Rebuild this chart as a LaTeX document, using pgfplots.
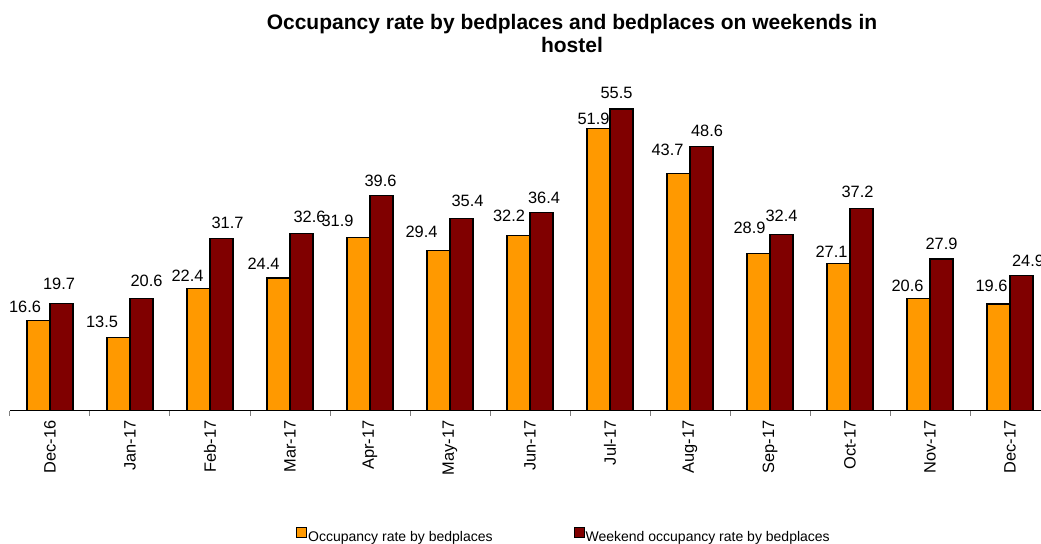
\documentclass[border=0pt]{standalone}
\usepackage{pgfplots}
\pgfplotsset{compat=1.18}
\usepackage{pgfplotstable}
\usepackage{fontspec}
\setmainfont{Liberation Sans}
\definecolor{barorange}{RGB}{255,153,0}
\definecolor{barred}{RGB}{128,0,0}
\pgfplotstableread{
x y dx dy lab
0 16.6 -13.5 7 16.6
1 13.5 -16.5 9 13.5
2 22.4 -11 7 22.4
3 24.4 -15 8 24.4
4 31.9 -21 10 31.9
5 29.4 -17 13 29.4
6 32.2 -9.5 13 32.2
7 51.9 -5 3 51.9
8 43.7 -11 17 43.7
9 28.9 -9 19 28.9
10 27.1 -7 5 27.1
11 20.6 -11 6 20.6
12 19.6 -7 12 19.6
}\occ
\pgfplotstableread{
x y dx dy lab
0 19.7 -2.5 13 19.7
1 20.6 5 11 20.6
2 31.7 6 9 31.7
3 32.6 8 10 32.6
4 39.6 -1 8 39.6
5 35.4 6 11 35.4
6 36.4 2.5 9 36.4
7 55.5 -5 10 55.5
8 48.6 5.5 9 48.6
9 32.4 0 12 32.4
10 37.2 -4 10 37.2
11 27.9 0 9 27.9
12 24.9 6.5 8 24.9
}\wkd

\begin{document}
\begin{tikzpicture}
\useasboundingbox (0,0) rectangle (520.5pt,271.5pt);
\clip (0,0) rectangle (520.5pt,271.5pt);
\node[anchor=base, inner sep=0pt, font=\fontsize{10.5}{12}\selectfont\bfseries] at (286pt,257pt) {Occupancy rate by bedplaces and bedplaces on weekends in};
\node[anchor=base, inner sep=0pt, font=\fontsize{10.5}{12}\selectfont\bfseries] at (286pt,245.5pt) {hostel};
\begin{axis}[
  at={(5pt,66.25pt)}, anchor=south west,
  x=40pt, y=2.716pt,
  xmin=-0.5, xmax=12.5, ymin=0, ymax=60,
  axis x line*=bottom, hide y axis,
  x axis line style={black, line width=0.5pt, -},
  xtick={0,...,12},
  xticklabels={Dec-16,Jan-17,Feb-17,Mar-17,Apr-17,May-17,Jun-17,Jul-17,Aug-17,Sep-17,Oct-17,Nov-17,Dec-17},
  major tick length=0pt,
  major x tick style={draw=none},
  minor xtick={-0.5,0.5,...,12.5},
  minor x tick style={gray, line width=0.5pt},
  minor tick length=2.5pt, tick align=outside,
  xticklabel style={rotate=90, anchor=east, inner sep=0pt, font=\fontsize{8.2}{9}\selectfont},
  xticklabel shift=4.75pt,
  ybar=0pt, bar width=11.5pt,
  clip=false,
  nodes near coords, point meta=explicit symbolic,
  visualization depends on={\thisrow{dx} \as \dx},
  visualization depends on={\thisrow{dy} \as \dy},
  every node near coord/.append style={anchor=south, inner sep=0pt, font=\fontsize{8.2}{9}\selectfont, xshift=\dx*0.5pt, yshift=\dy*0.5pt, text=black},
  legend columns=2,
  legend image code/.code={\draw[#1, line width=0.5pt] (0pt,0pt) rectangle (5pt,5pt);},
  legend style={at={(0.5322,-0.3852)}, anchor=center, draw=none, fill=none, inner sep=0pt,
    font=\fontsize{7}{8}\selectfont, nodes={inner sep=0.5pt},
    /tikz/every even column/.append style={column sep=40pt}},
  legend cell align=left,
]
\addplot[fill=barorange, draw=black, line width=0.6pt] table[x=x,y=y,meta=lab]{\occ};
\addplot[fill=barred, draw=black, line width=0.6pt] table[x=x,y=y,meta=lab]{\wkd};
\legend{Occupancy rate by bedplaces, Weekend occupancy rate by bedplaces}
\end{axis}
\end{tikzpicture}
\end{document}
